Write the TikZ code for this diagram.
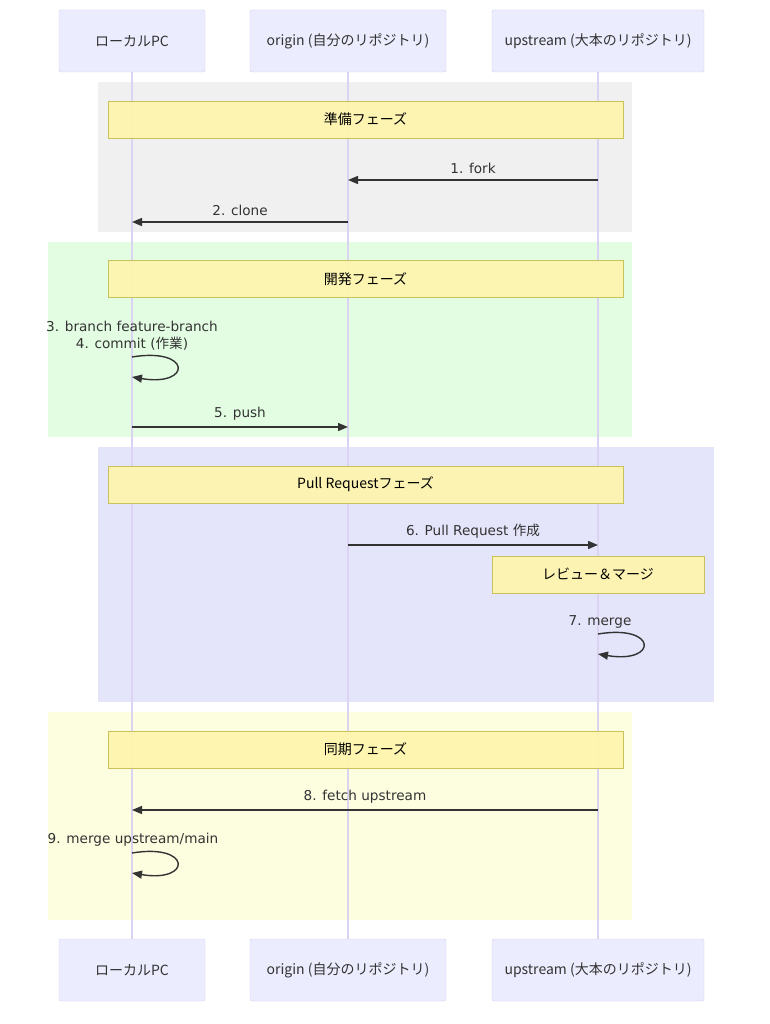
\documentclass[tikz,border=0pt]{standalone}
\usepackage{fontspec}
\setmainfont{DejaVu Sans}
\newfontfamily\jp{Noto Sans CJK JP}
\usetikzlibrary{arrows.meta,positioning}
\definecolor{actfill}{HTML}{ECECFF}
\definecolor{actline}{HTML}{D2CCF0}
\definecolor{lifeline}{HTML}{DAD3F2}
\definecolor{notefill}{HTML}{FFF5AD}
\definecolor{noteline}{HTML}{C9C25A}
\definecolor{msgcol}{HTML}{333333}
\definecolor{prepbg}{HTML}{F0F0F0}
\definecolor{devbg}{HTML}{E3FDE3}
\definecolor{prbg}{HTML}{E4E4FA}
\definecolor{syncbg}{HTML}{FDFDE0}
\tikzset{
  actor/.style={rectangle, rounded corners=2pt, draw=actline, fill=actfill, minimum height=62pt, text=msgcol, font=\jp\fontsize{14}{16}\selectfont},
  note/.style={rectangle, draw=noteline, fill=notefill, fill opacity=0.92, text opacity=1, minimum height=37pt, text=black, font=\jp\fontsize{14}{16}\selectfont},
  life/.style={draw=lifeline, line width=1.3pt},
  msg/.style={draw=msgcol, line width=1.4pt, -{Triangle[length=10pt,width=8pt]}},
  lbl/.style={text=msgcol, font=\fontsize{13.6}{15}\selectfont, inner sep=1pt},
}
\begin{document}
\begin{tikzpicture}[x=1pt, y=-1pt]
	\useasboundingbox (0,0) rectangle (770,1024);
	% phases
	\fill[prepbg] (98,82) rectangle (632,232);
	\fill[devbg] (48,242) rectangle (632,437);
	\fill[prbg] (98,447) rectangle (714,702);
	\fill[syncbg] (48,712) rectangle (632,920);
	%
	\node[actor, minimum width=146pt] (lpc) at (132,41) {ローカルPC};
	\node[actor, minimum width=196pt] (org) at (348,41) {origin (自分のリポジトリ)};
	\node[actor, minimum width=212pt] (ups) at (598,41) {upstream (大本のリポジトリ)};
	\node[actor, minimum width=146pt] (lpcb) at (132,970) {ローカルPC};
	\node[actor, minimum width=196pt] (orgb) at (348,970) {origin (自分のリポジトリ)};
	\node[actor, minimum width=212pt] (upsb) at (598,970) {upstream (大本のリポジトリ)};
	\draw[life] (lpc) -- (lpcb);
	\draw[life] (org) -- (orgb);
	\draw[life] (ups) -- (upsb);
	%
	\node[note, minimum width=515pt] (prep) at (365.5,119.5) {準備フェーズ};
	\node[note, minimum width=515pt] (dev) at (365.5,279) {開発フェーズ};
	\node[note, minimum width=515pt] (pr) at (365.5,484.5) {Pull Requestフェーズ};
	\node[note, minimum width=212pt] (review) at (598,574.5) {レビュー＆マージ};
	\node[note, minimum width=515pt] (sync) at (365.5,749.5) {同期フェーズ};
	%
	\coordinate (r1) at (0,180);
	\coordinate (r2) at (0,222);
	\coordinate (r4a) at (0,357);
	\coordinate (r4b) at (0,377);
	\coordinate (r5) at (0,427);
	\coordinate (r6) at (0,545);
	\coordinate (r7a) at (0,634);
	\coordinate (r7b) at (0,654);
	\coordinate (r8) at (0,810);
	\coordinate (r9a) at (0,853);
	\coordinate (r9b) at (0,873);
	%
	\draw[msg] (ups |- r1) -- node[lbl, above=5pt] {1. fork} (org |- r1);
	\draw[msg] (org |- r2) -- node[lbl, above=5pt] {2. clone} (lpc |- r2);
	\node[lbl] (m3) at (132,326) {3. branch feature-branch};
	\node[lbl, below=3pt of m3] (m4) {4. commit ({\jp 作業})};
	\draw[msg] (lpc |- r4a) .. controls +(60,-10) and +(60,10) .. (lpc |- r4b);
	\draw[msg] (lpc |- r5) -- node[lbl, above=5pt] {5. push} (org |- r5);
	\draw[msg] (org |- r6) -- node[lbl, above=5pt] {6. Pull Request {\jp 作成}} (ups |- r6);
	\node[lbl] (m7) at (600,622) {7. merge};
	\draw[msg] (ups |- r7a) .. controls +(60,-10) and +(60,10) .. (ups |- r7b);
	\draw[msg] (ups |- r8) -- node[lbl, above=5pt] {8. fetch upstream} (lpc |- r8);
	\node[lbl] (m9) at (133,840) {9. merge upstream/main};
	\draw[msg] (lpc |- r9a) .. controls +(60,-10) and +(60,10) .. (lpc |- r9b);
\end{tikzpicture}
\end{document}
